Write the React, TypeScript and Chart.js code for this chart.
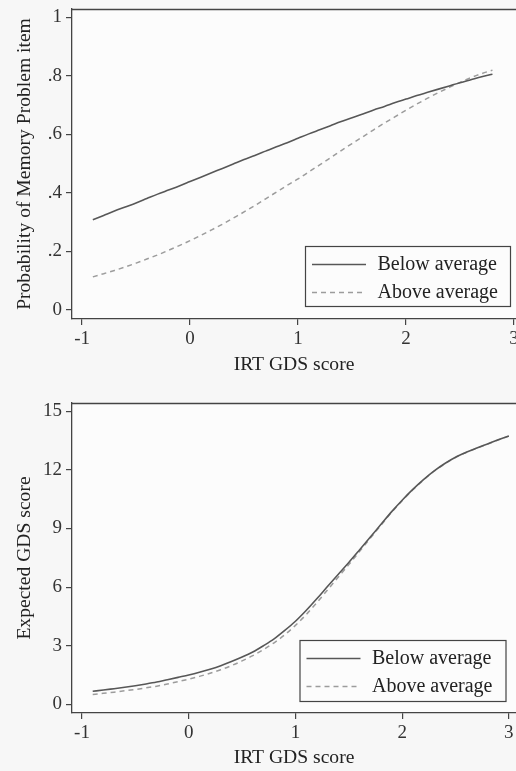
import React, { useEffect, useRef } from "react";
import { Chart, registerables } from "chart.js";

Chart.register(...registerables);

// ---------- data ----------
const seriesLabels = ["Below average", "Above average"];
const xTitle = "IRT GDS score";
const topYTitle = "Probability of Memory Problem item";
const bottomYTitle = "Expected GDS score";

const xTicks = [-1, 0, 1, 2, 3];
const topYTicks = [0, 0.2, 0.4, 0.6, 0.8, 1];
const topYTickLabels = ["0", ".2", ".4", ".6", ".8", "1"];
const bottomYTicks = [0, 3, 6, 9, 12, 15];

const topX = [
  -0.9, -0.8, -0.7, -0.6, -0.5, -0.4, -0.3, -0.2, -0.1, 0.0,
  0.1, 0.2, 0.3, 0.4, 0.5, 0.6, 0.7, 0.8, 0.9, 1.0,
  1.1, 1.2, 1.3, 1.4, 1.5, 1.6, 1.7, 1.8, 1.9, 2.0,
  2.1, 2.2, 2.3, 2.4, 2.5, 2.6, 2.7, 2.8,
];
const topBelow = [
  0.308, 0.323, 0.338, 0.352, 0.366, 0.381, 0.396, 0.410, 0.424, 0.439,
  0.454, 0.469, 0.484, 0.499, 0.514, 0.528, 0.543, 0.558, 0.572, 0.587,
  0.602, 0.616, 0.630, 0.644, 0.657, 0.670, 0.684, 0.696, 0.709, 0.721,
  0.733, 0.744, 0.755, 0.766, 0.777, 0.787, 0.797, 0.806,
];
const topAbove = [
  0.113, 0.124, 0.135, 0.147, 0.160, 0.174, 0.188, 0.204, 0.220, 0.237,
  0.255, 0.274, 0.293, 0.314, 0.335, 0.357, 0.380, 0.403, 0.426, 0.448,
  0.472, 0.496, 0.520, 0.545, 0.569, 0.592, 0.616, 0.639, 0.661, 0.683,
  0.704, 0.724, 0.743, 0.761, 0.778, 0.794, 0.808, 0.820,
];

const bottomX = [
  -0.9, -0.8, -0.7, -0.6, -0.5, -0.4, -0.3, -0.2, -0.1, 0.0,
  0.1, 0.2, 0.3, 0.4, 0.5, 0.6, 0.7, 0.8, 0.9, 1.0,
  1.1, 1.2, 1.3, 1.4, 1.5, 1.6, 1.7, 1.8, 1.9, 2.0,
  2.1, 2.2, 2.3, 2.4, 2.5, 2.6, 2.7, 2.8, 2.9, 3.0,
];
const bottomBelow = [
  0.67, 0.73, 0.80, 0.87, 0.95, 1.04, 1.14, 1.26, 1.38, 1.50,
  1.64, 1.80, 1.98, 2.19, 2.42, 2.68, 3.00, 3.35, 3.78, 4.25,
  4.80, 5.40, 6.03, 6.65, 7.26, 7.90, 8.55, 9.20, 9.85, 10.45,
  11.00, 11.50, 11.95, 12.33, 12.65, 12.90, 13.12, 13.33, 13.54, 13.74,
];
const bottomAbove = [
  0.50, 0.56, 0.62, 0.69, 0.76, 0.84, 0.93, 1.04, 1.16, 1.29,
  1.43, 1.59, 1.77, 1.98, 2.22, 2.49, 2.80, 3.15, 3.56, 4.04,
  4.59, 5.20, 5.85, 6.50, 7.15, 7.82, 8.49, 9.16, 9.82, 10.42,
  10.98, 11.48, 11.93, 12.31, 12.63, 12.89, 13.11, 13.32, 13.53, 13.73,
];

// ---------- styles ----------
const FONT = "'Liberation Serif', 'Times New Roman', serif";
const PAGE_BG = "#f7f7f7";
const PLOT_BG = "#fcfcfc";
const AXIS = "#444444";
const SOLID = "#575757";
const DASHED = "#9c9c9c";

const frameLegendPlugin = {
  id: "frameLegend",
  beforeDraw(chart: any) {
    const { ctx, chartArea: a } = chart;
    ctx.save();
    ctx.fillStyle = PAGE_BG;
    ctx.fillRect(0, 0, chart.width, chart.height);
    ctx.fillStyle = PLOT_BG;
    ctx.fillRect(a.left, a.top, a.right - a.left, a.bottom - a.top);
    ctx.restore();
  },
  afterDraw(chart: any, _args: any, o: any) {
    const { ctx, chartArea: a } = chart;
    ctx.save();
    // top frame line
    ctx.strokeStyle = AXIS;
    ctx.lineWidth = 1.3;
    ctx.beginPath();
    ctx.moveTo(a.left, a.top + 0.5);
    ctx.lineTo(a.right, a.top + 0.5);
    ctx.stroke();

    // legend box
    const left = a.right - o.right - o.w;
    const top = a.bottom - o.bottom - o.h;
    ctx.fillStyle = PLOT_BG;
    ctx.fillRect(left, top, o.w, o.h);
    ctx.strokeStyle = AXIS;
    ctx.lineWidth = 1.2;
    ctx.strokeRect(left + 0.5, top + 0.5, o.w, o.h);

    chart.data.datasets.forEach((ds: any, i: number) => {
      const y = top + o.rows[i];
      ctx.strokeStyle = ds.borderColor;
      ctx.lineWidth = ds.borderWidth;
      ctx.setLineDash(ds.borderDash || []);
      ctx.beginPath();
      ctx.moveTo(left + 7, y);
      ctx.lineTo(left + 61, y);
      ctx.stroke();
      ctx.setLineDash([]);
      ctx.fillStyle = "#222";
      ctx.font = `20px ${FONT}`;
      ctx.textBaseline = "middle";
      ctx.textAlign = "left";
      ctx.fillText(ds.label, left + 72.5, y);
    });
    ctx.restore();
  },
};

function makeChart(canvas: HTMLCanvasElement, cfg: any) {
  const datasets = [
    {
      label: seriesLabels[0],
      data: cfg.xs.map((x: number, i: number) => ({ x, y: cfg.below[i] })),
      borderColor: SOLID,
      borderWidth: 1.6,
      pointRadius: 0,
      cubicInterpolationMode: "monotone",
      fill: false,
    },
    {
      label: seriesLabels[1],
      data: cfg.xs.map((x: number, i: number) => ({ x, y: cfg.above[i] })),
      borderColor: DASHED,
      borderWidth: 1.5,
      borderDash: [5, 4],
      pointRadius: 0,
      cubicInterpolationMode: "monotone",
      fill: false,
    },
  ];
  return new Chart(canvas, {
    type: "line",
    data: { datasets },
    plugins: [frameLegendPlugin],
    options: {
      animation: false,
      responsive: false,
      maintainAspectRatio: false,
      layout: { padding: { top: cfg.padTop, right: 0, bottom: 0, left: 0 } },
      plugins: {
        legend: { display: false },
        tooltip: { enabled: false },
        frameLegend: cfg.legend,
      },
      scales: {
        x: {
          type: "linear",
          min: cfg.xMin,
          max: cfg.xMax,
          afterBuildTicks: (s: any) => {
            s.ticks = xTicks.map((v) => ({ value: v }));
          },
          afterFit: (s: any) => {
            s.height = cfg.xAxisHeight;
            s.paddingLeft = 0;
            s.paddingRight = 0;
          },
          grid: {
            display: true,
            drawOnChartArea: false,
            drawTicks: true,
            tickLength: 6,
            color: AXIS,
            lineWidth: 1.2,
          },
          border: { display: true, color: AXIS, width: 1.3 },
          ticks: {
            font: { family: FONT, size: 19 },
            color: "#333",
            padding: 3,
            maxRotation: 0,
            autoSkip: false,
            callback: (v: any) => String(v),
          },
          title: {
            display: true,
            text: xTitle,
            font: { family: FONT, size: 19.6 },
            color: "#222",
            padding: { top: 0, bottom: cfg.xTitlePad },
          },
        },
        y: {
          type: "linear",
          min: cfg.yMin,
          max: cfg.yMax,
          afterBuildTicks: (s: any) => {
            s.ticks = cfg.yTicks.map((v: number) => ({ value: v }));
          },
          afterFit: (s: any) => {
            s.width = 72;
            s.paddingTop = 0;
            s.paddingBottom = 0;
          },
          grid: {
            display: true,
            drawOnChartArea: false,
            drawTicks: true,
            tickLength: 6,
            color: AXIS,
            lineWidth: 1.2,
          },
          border: { display: true, color: AXIS, width: 1.3 },
          ticks: {
            font: { family: FONT, size: 19 },
            color: "#333",
            padding: 4,
            autoSkip: false,
            callback: (v: any, i: number) => cfg.yLabels[i],
          },
          title: {
            display: true,
            text: cfg.yTitle,
            font: { family: FONT, size: 19.6 },
            color: "#222",
            padding: { top: 13, bottom: 0 },
          },
        },
      },
    } as any,
  });
}

export default function App() {
  const topRef = useRef<HTMLCanvasElement>(null);
  const botRef = useRef<HTMLCanvasElement>(null);

  useEffect(() => {
    const c1 = makeChart(topRef.current!, {
      xs: topX,
      below: topBelow,
      above: topAbove,
      xMin: -1.093,
      xMax: 3.018,
      yMin: -0.031,
      yMax: 1.029,
      yTicks: topYTicks,
      yLabels: topYTickLabels,
      yTitle: topYTitle,
      padTop: 9,
      xAxisHeight: 71,
      xTitlePad: 13,
      legend: { right: 6, bottom: 13, w: 205, h: 60, rows: [18.5, 46.5] },
    });
    const c2 = makeChart(botRef.current!, {
      xs: bottomX,
      below: bottomBelow,
      above: bottomAbove,
      xMin: -1.094,
      xMax: 3.067,
      yMin: -0.445,
      yMax: 15.425,
      yTicks: bottomYTicks,
      yLabels: bottomYTicks.map((v) => String(v)),
      yTitle: bottomYTitle,
      padTop: 13,
      xAxisHeight: 58,
      xTitlePad: 1,
      legend: { right: 10.5, bottom: 12, w: 206, h: 61, rows: [18.5, 46.5] },
    });
    return () => {
      c1.destroy();
      c2.destroy();
    };
  }, []);

  return (
    <div
      style={{
        position: "absolute",
        left: 0,
        top: 0,
        width: 516,
        height: 771,
        overflow: "hidden",
        background: PAGE_BG,
      }}
    >
      <canvas ref={topRef} width={516} height={390} style={{ display: "block" }} />
      <canvas ref={botRef} width={516} height={381} style={{ display: "block" }} />
    </div>
  );
}
